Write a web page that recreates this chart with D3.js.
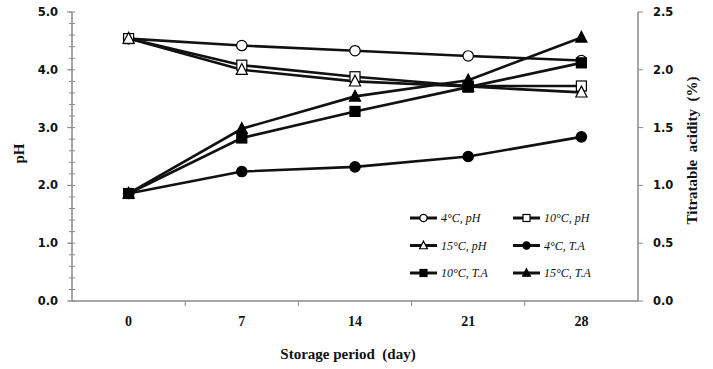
<!DOCTYPE html>
<html>
<head>
<meta charset="utf-8">
<script src="https://cdn.jsdelivr.net/npm/d3@7"></script>
<style>
  body { margin: 0; background: #fff; }
  #chart { width: 713px; height: 369px; }
  .tick-num { font-family: "DejaVu Sans", Verdana, sans-serif; font-weight: bold; font-size: 11.5px; fill: #111; }
  .xtick { font-family: "Liberation Serif", "Times New Roman", serif; font-weight: bold; font-size: 14px; fill: #111; }
  .title { font-family: "Liberation Serif", "Times New Roman", serif; font-weight: bold; font-size: 15px; fill: #111; white-space: pre; }
  .legend text { font-family: "Liberation Serif", "Times New Roman", serif; font-style: italic; font-size: 12px; fill: #111; }
</style>
</head>
<body>
<div id="chart"></div>
<script>
var days = ["0", "7", "14", "21", "28"];

// pH (left axis)
var ph4 = [4.54, 4.42, 4.33, 4.24, 4.16];
var ph10 = [4.54, 4.08, 3.88, 3.72, 3.72];
var ph15 = [4.54, 4.00, 3.80, 3.71, 3.61];

// titratable acidity (right axis)
var ta4 = [0.93, 1.12, 1.16, 1.25, 1.42];
var ta10 = [0.93, 1.41, 1.64, 1.85, 2.06];
var ta15 = [0.93, 1.49, 1.77, 1.91, 2.28];

var phTicks = [0, 1, 2, 3, 4, 5];
var taTicks = [0, 0.5, 1, 1.5, 2, 2.5];

var series = [
  {name: "4\u00B0C, pH", vals: ph4, axis: "l", shape: "circle", fill: "#fff"},
  {name: "10\u00B0C, pH", vals: ph10, axis: "l", shape: "square", fill: "#fff"},
  {name: "15\u00B0C, pH", vals: ph15, axis: "l", shape: "triangle", fill: "#fff"},
  {name: "4\u00B0C, T.A", vals: ta4, axis: "r", shape: "circle", fill: "#000"},
  {name: "10\u00B0C, T.A", vals: ta10, axis: "r", shape: "square", fill: "#000"},
  {name: "15\u00B0C, T.A", vals: ta15, axis: "r", shape: "triangle", fill: "#000"}
];

var width = 713, height = 369;
var margin = {top: 12, right: 75, bottom: 68, left: 72};
var plotW = width - margin.left - margin.right;
var plotH = height - margin.top - margin.bottom;

var svg = d3.select("#chart").append("svg")
  .attr("width", width).attr("height", height);

var xs = d3.scaleBand().domain(days).range([0, plotW]);
var yl = d3.scaleLinear().domain([0, 5]).range([plotH, 0]);
var yr = d3.scaleLinear().domain([0, 2.5]).range([plotH, 0]);

var g = svg.append("g").attr("transform", "translate(" + margin.left + "," + margin.top + ")");
var axisCol = "#8a8a8a";

// x axis line + ticks between categories
g.append("line").attr("x1", 0).attr("x2", plotW).attr("y1", plotH).attr("y2", plotH)
  .attr("stroke", axisCol).attr("stroke-width", 1.5);
days.slice(1).forEach(function(d) {
  g.append("line").attr("x1", xs(d)).attr("x2", xs(d)).attr("y1", plotH).attr("y2", plotH + 5)
    .attr("stroke", axisCol);
});
g.selectAll(".xtick").data(days).enter().append("text")
  .attr("class", "xtick")
  .attr("x", function(d) { return xs(d) + xs.bandwidth() / 2; })
  .attr("y", plotH + 25)
  .attr("text-anchor", "middle")
  .text(function(d) { return d; });

// left axis
g.append("line").attr("x1", 0).attr("x2", 0).attr("y1", 0).attr("y2", plotH)
  .attr("stroke", axisCol).attr("stroke-width", 1.5);
d3.range(0, 5.01, 0.2).forEach(function(v) {
  g.append("line").attr("x1", -3).attr("x2", 3).attr("y1", yl(v)).attr("y2", yl(v))
    .attr("stroke", axisCol);
});
phTicks.forEach(function(v) {
  g.append("line").attr("x1", -5).attr("x2", 0).attr("y1", yl(v)).attr("y2", yl(v))
    .attr("stroke", axisCol);
  g.append("text").attr("class", "tick-num")
    .attr("x", -14).attr("y", yl(v)).attr("dy", "0.35em")
    .attr("text-anchor", "end").text(d3.format(".1f")(v));
});

// right axis
g.append("line").attr("x1", plotW).attr("x2", plotW).attr("y1", 0).attr("y2", plotH)
  .attr("stroke", axisCol).attr("stroke-width", 1.5);
taTicks.forEach(function(v) {
  g.append("line").attr("x1", plotW).attr("x2", plotW + 5).attr("y1", yr(v)).attr("y2", yr(v))
    .attr("stroke", axisCol);
  g.append("text").attr("class", "tick-num")
    .attr("x", plotW + 15).attr("y", yr(v)).attr("dy", "0.35em")
    .attr("text-anchor", "start").text(d3.format(".1f")(v));
});

// titles
svg.append("text").attr("class", "title")
  .attr("transform", "translate(24," + (margin.top + plotH / 2 - 3) + ") rotate(-90)")
  .attr("text-anchor", "middle").text("pH");
svg.append("text").attr("class", "title")
  .attr("transform", "translate(697," + (margin.top + plotH / 2 - 6) + ") rotate(-90)")
  .attr("text-anchor", "middle").text("Titratable  acidity  (%)");
svg.append("text").attr("class", "title")
  .attr("x", margin.left + plotW / 2 - 7).attr("y", 359)
  .attr("text-anchor", "middle").text("Storage period  (day)");

function drawMarker(sel, shape, fill, size) {
  if (shape === "circle") {
    sel.append("circle").attr("r", size * 0.52).attr("fill", fill).attr("stroke", "#000").attr("stroke-width", 1.2);
  } else if (shape === "square") {
    sel.append("rect").attr("x", -size / 2).attr("y", -size / 2).attr("width", size).attr("height", size)
      .attr("fill", fill).attr("stroke", "#000").attr("stroke-width", 1.2);
  } else {
    var s = size * 0.62;
    sel.append("path").attr("d", "M0," + (-s) + "L" + (s * 0.9) + "," + (s * 0.75) + "L" + (-s * 0.9) + "," + (s * 0.75) + "Z")
      .attr("fill", fill).attr("stroke", "#000").attr("stroke-width", 1.2);
  }
}

var cx = function(i) { return xs(days[i]) + xs.bandwidth() / 2; };

series.forEach(function(s) {
  var ys = s.axis === "l" ? yl : yr;
  var line = d3.line().x(function(d, i) { return cx(i); }).y(function(d) { return ys(d); });
  g.append("path").datum(s.vals).attr("d", line)
    .attr("fill", "none").attr("stroke", "#111").attr("stroke-width", 2.6);
});
series.forEach(function(s) {
  var ys = s.axis === "l" ? yl : yr;
  s.vals.forEach(function(v, i) {
    var m = g.append("g").attr("transform", "translate(" + cx(i) + "," + ys(v) + ")");
    drawMarker(m, s.shape, s.fill, 10);
  });
});

// legend
var leg = svg.append("g").attr("class", "legend");
series.forEach(function(s, i) {
  var col = i % 2, row = Math.floor(i / 2);
  var lx = 410 + col * 103, ly = 218 + row * 27.5;
  leg.append("line").attr("x1", lx).attr("x2", lx + 27).attr("y1", ly).attr("y2", ly)
    .attr("stroke", "#111").attr("stroke-width", 3);
  var m = leg.append("g").attr("transform", "translate(" + (lx + 13.5) + "," + ly + ")");
  drawMarker(m, s.shape, s.fill, 7);
  leg.append("text").attr("x", lx + 31).attr("y", ly).attr("dy", "0.35em").text(s.name);
});
</script>
</body>
</html>
